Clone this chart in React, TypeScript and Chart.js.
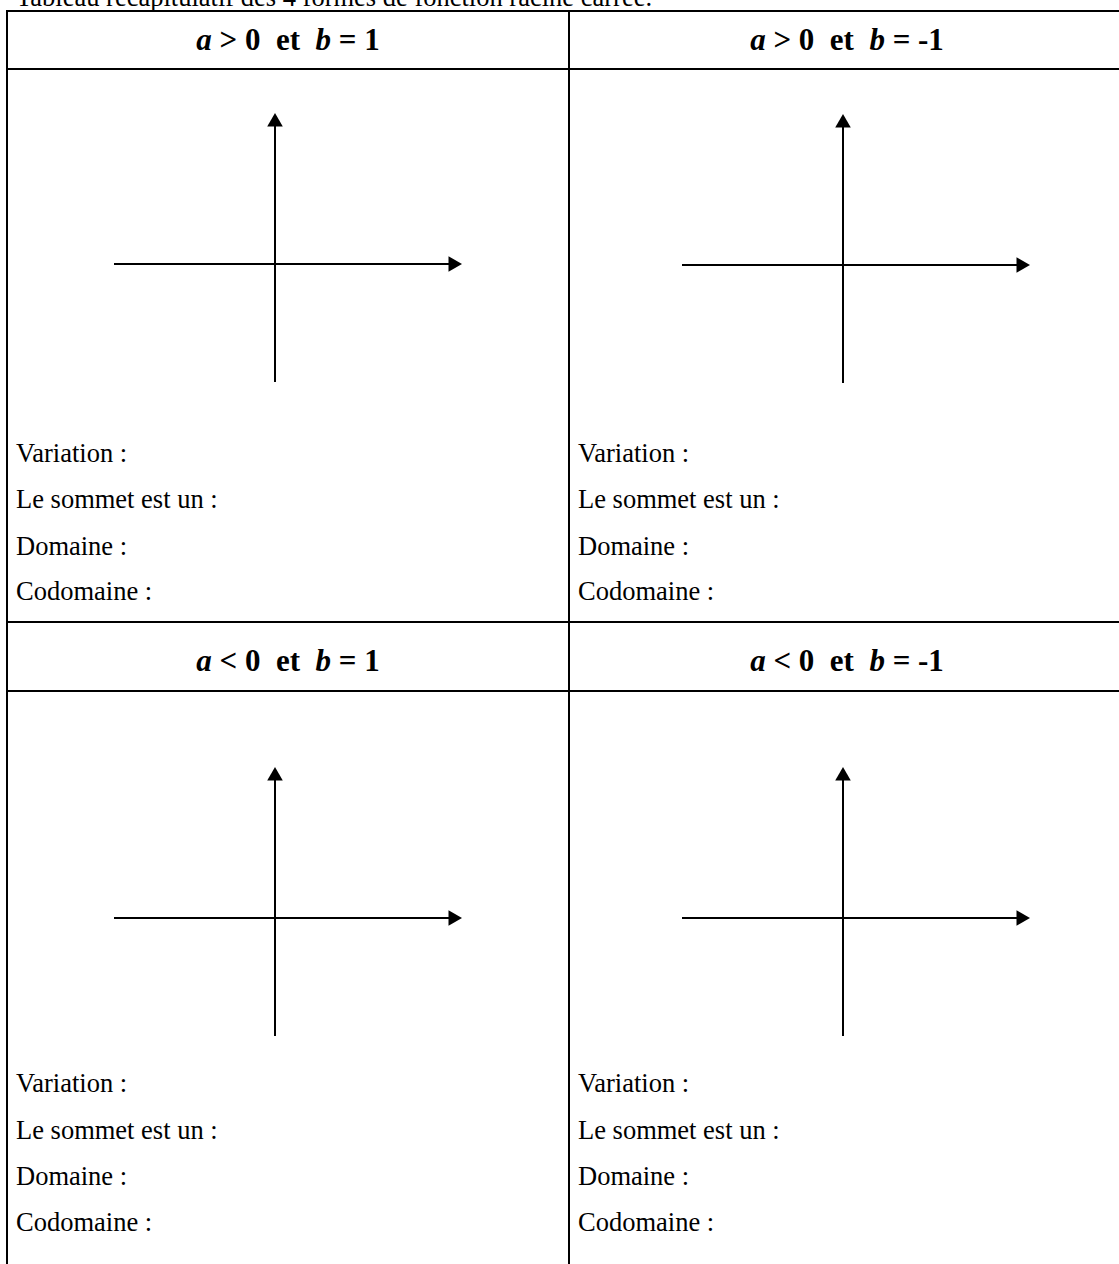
import React, { useEffect, useRef } from "react";
import { Chart, registerables } from "chart.js";

Chart.register(...registerables);

// ---- content / data ----
const TITLE = "Tableau récapitulatif des 4 formes de fonction racine carrée.";
const headerSignsA = [">", ">", "<", "<"];
const headerValuesB = ["1", "-1", "1", "-1"];
const fieldLabels = ["Variation :", "Le sommet est un :", "Domaine :", "Codomaine :"];

// axis extents (relative to the origin, 1 unit = 1 px)
const xAxisStart = -161;
const xAxisTip = 187;
const yAxisStart = -118;
const yAxisTip = 151;

// ---- layout ----
const FONT = '"Liberation Serif", "Times New Roman", serif';
const FS = 26.5;
const LH = 30;
const BASE_OFF = 23.6; // baseline offset inside the 30px line box
const HFS = 31;
const HLH = 36;
const HBASE_OFF = 28.5;
const ARROW_R = 9;

const colLeft = [8, 570];
const colWidth = [560, 554];
const headerBaseline = [50, 671];
const fieldBaselines = [
  [462, 508, 555, 600],
  [1092, 1139, 1185, 1231],
];
const panelOrigins = [
  [275, 264],
  [843, 265],
  [275, 918],
  [843, 918],
];
const BOX_W = 420;
const BOX_H = 320;
const BOX_LEFT = 210; // px left of origin
const BOX_UP = 180; // px above origin

function AxesPanel({ ox, oy }: { ox: number; oy: number }) {
  const ref = useRef<HTMLCanvasElement | null>(null);
  useEffect(() => {
    if (!ref.current) return;
    const chart = new Chart(ref.current, {
      type: "scatter",
      data: {
        datasets: [
          {
            data: [
              { x: xAxisStart, y: 0 },
              { x: xAxisTip - ARROW_R, y: 0 },
            ],
            showLine: true,
            borderColor: "#000",
            borderWidth: 2,
            pointRadius: [0, ARROW_R],
            pointStyle: "triangle",
            pointRotation: [0, 90],
            pointBackgroundColor: "#000",
            pointBorderColor: "#000",
            pointBorderWidth: 0,
          },
          {
            data: [
              { x: 0, y: yAxisStart },
              { x: 0, y: yAxisTip - ARROW_R },
            ],
            showLine: true,
            borderColor: "#000",
            borderWidth: 2,
            pointRadius: [0, ARROW_R],
            pointStyle: "triangle",
            pointRotation: [0, 0],
            pointBackgroundColor: "#000",
            pointBorderColor: "#000",
            pointBorderWidth: 0,
          },
        ],
      },
      options: {
        animation: false,
        responsive: false,
        events: [],
        layout: { padding: 0, autoPadding: false },
        plugins: { legend: { display: false }, tooltip: { enabled: false } },
        scales: {
          x: { type: "linear", display: false, min: -BOX_LEFT, max: BOX_W - BOX_LEFT },
          y: { type: "linear", display: false, min: -(BOX_H - BOX_UP), max: BOX_UP },
        },
      },
    });
    return () => chart.destroy();
  }, []);
  return (
    <canvas
      ref={ref}
      width={BOX_W}
      height={BOX_H}
      style={{ position: "absolute", left: ox - BOX_LEFT, top: oy - BOX_UP, width: BOX_W, height: BOX_H }}
    />
  );
}

function Line({ l, t, w, h }: { l: number; t: number; w: number; h: number }) {
  return <div style={{ position: "absolute", left: l, top: t, width: w, height: h, background: "#000" }} />;
}

function Header({ i }: { i: number }) {
  const col = i % 2;
  const row = Math.floor(i / 2);
  return (
    <div
      style={{
        position: "absolute",
        left: colLeft[col],
        width: colWidth[col],
        top: headerBaseline[row] - HBASE_OFF,
        textAlign: "center",
        fontFamily: FONT,
        fontSize: HFS,
        lineHeight: HLH + "px",
        fontWeight: "bold",
        whiteSpace: "pre",
      }}
    >
      <i>a</i>
      {" " + headerSignsA[i] + " 0  et  "}
      <i>b</i>
      {" = " + headerValuesB[i]}
    </div>
  );
}

export default function App() {
  return (
    <div
      style={{
        position: "fixed",
        left: 0,
        top: 0,
        width: 1119,
        height: 1264,
        overflow: "hidden",
        background: "#fff",
        color: "#000",
      }}
    >
      <div
        style={{
          position: "absolute",
          left: 16,
          top: 6 - BASE_OFF,
          fontFamily: FONT,
          fontSize: FS,
          lineHeight: LH + "px",
          whiteSpace: "pre",
        }}
      >
        {TITLE}
      </div>

      {/* table grid */}
      <Line l={6} t={10} w={1140} h={2} />
      <Line l={6} t={10} w={2} h={1300} />
      <Line l={568} t={10} w={2} h={1300} />
      <Line l={6} t={68} w={1140} h={2} />
      <Line l={6} t={621} w={1140} h={2} />
      <Line l={6} t={690} w={1140} h={2} />

      {[0, 1, 2, 3].map((i) => (
        <Header key={"h" + i} i={i} />
      ))}

      {panelOrigins.map(([ox, oy], i) => (
        <AxesPanel key={"p" + i} ox={ox} oy={oy} />
      ))}

      {[0, 1, 2, 3].map((i) => {
        const col = i % 2;
        const row = Math.floor(i / 2);
        return fieldLabels.map((lab, k) => (
          <div
            key={"f" + i + "-" + k}
            style={{
              position: "absolute",
              left: colLeft[col] + 8,
              top: fieldBaselines[row][k] - BASE_OFF,
              fontFamily: FONT,
              fontSize: FS,
              lineHeight: LH + "px",
              whiteSpace: "pre",
            }}
          >
            {lab}
          </div>
        ));
      })}
    </div>
  );
}
